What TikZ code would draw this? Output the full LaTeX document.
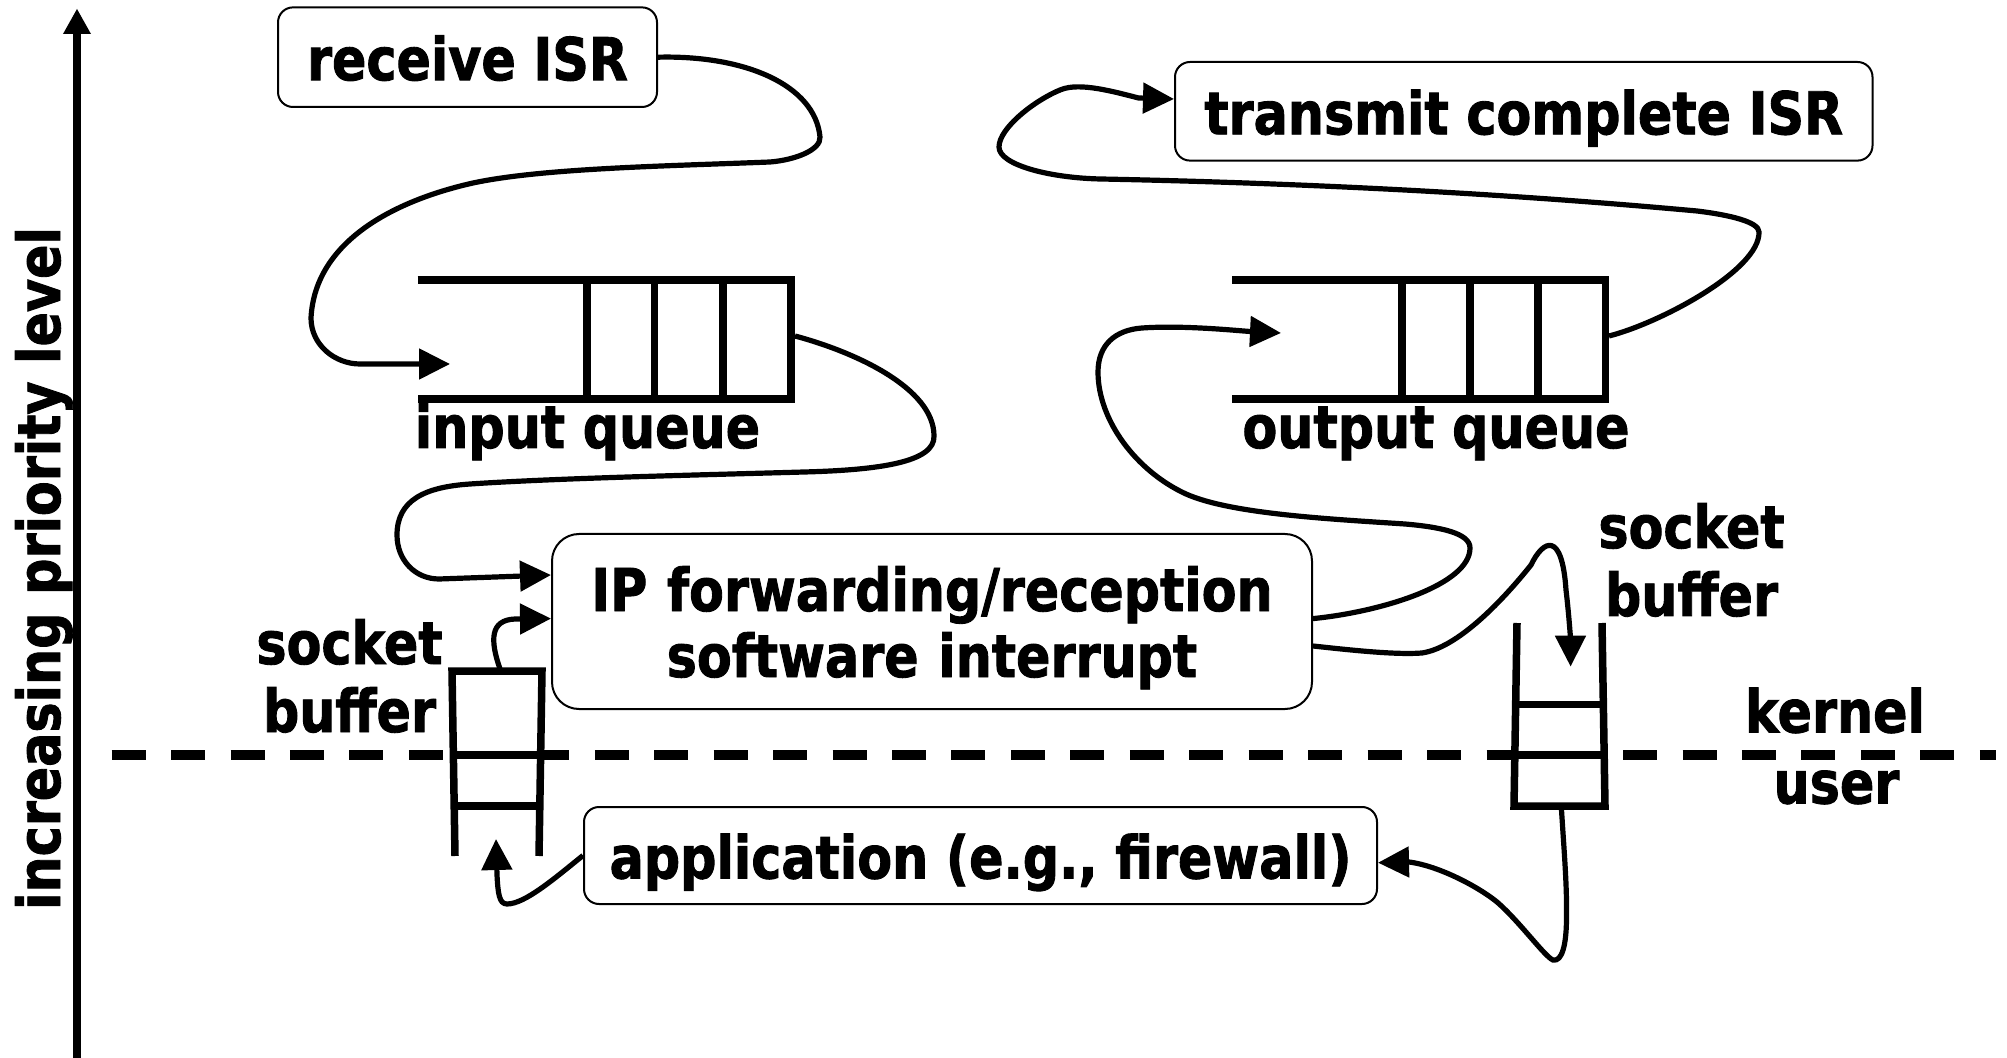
\documentclass[tikz,border=0pt]{standalone}
\usepackage{fontspec}
\newfontfamily\lblfont{DejaVu Sans Bold}[FakeStretch=0.86, FakeBold=1.5]
\usetikzlibrary{arrows.meta}
\begin{document}
\begin{tikzpicture}[x=0.5pt,y=-0.5pt]
\tikzset{
  lbl/.style={font=\lblfont\fontsize{29.5pt}{33pt}\selectfont, inner sep=0pt},
  twoline/.style={lbl, text width=150pt, align=center, font=\lblfont\fontsize{29.5pt}{34pt}\selectfont},
  box/.style={lbl, draw, line width=1pt, rounded corners=7.5pt, text height=28pt, text depth=5pt},
  conn/.style={line width=2.6pt, -{Triangle[length=15.5pt,width=15pt]}},
  qline/.style={line width=3.75pt},
  dashline/.style={line width=5pt, dash pattern=on 17pt off 12.725pt},
  axisline/.style={line width=3.7pt, -{Triangle[length=12.75pt,width=13pt]}}
}
\useasboundingbox (0,0) rectangle (2007,1058);

% priority axis
\coordinate (axb) at (77,1062);
\coordinate (axt) at (77,8.5);
\draw[axisline] (axb) -- (axt);
\node[lbl, rotate=90, anchor=base] (prio) at (60,568.5) {increasing priority level};

% kernel/user boundary
\draw[dashline] (111.6,755) -- (452,755);
\draw[dashline, dash phase=3.35pt] (542,755) -- (1514,755);
\draw[dashline, dash phase=20.7pt] (1605,755) -- (1996,755);
\node[lbl, anchor=base] (kern) at (1835,732.5) {kernel};
\node[lbl, anchor=base] (usr) at (1836.5,803.5) {user};

% boxes
\node[box, minimum width=189.5pt, minimum height=49.8pt] (recv) at (467.5,57.2) {receive ISR};
\node[box, minimum width=348.75pt, minimum height=49.3pt] (xmit) at (1523.75,111.3) {transmit complete ISR};
\node[box, minimum width=396.5pt, minimum height=48.5pt] (app) at (980.5,855.5) {application (e.g., firewall)};
\node[box, rounded corners=13.5pt, minimum width=380pt, minimum height=87.5pt,
      text width=370pt, align=center, text height=22pt, text depth=32.5pt] (ip) at (932,621.5)
      {IP forwarding/reception\\software interrupt};

% input queue
\draw[qline] (417.5,280) -- (791,280) -- (791,399) -- (417.5,399);
\foreach \qx in {587,654.5,723} \draw[qline] (\qx,280) -- (\qx,399);
\node[lbl, anchor=base] (iqlbl) at (587.5,448) {input queue};
\coordinate (iqin) at (450,364);
\coordinate (iqout) at (795,336);

% output queue
\draw[qline] (1232,280) -- (1605.5,280) -- (1605.5,399) -- (1232,399);
\foreach \qx in {1402,1470,1538} \draw[qline] (\qx,280) -- (\qx,399);
\node[lbl, anchor=base] (oqlbl) at (1436,448) {output queue};
\coordinate (oqin) at (1281,333);
\coordinate (oqout) at (1609,336);

% left socket buffer
\draw[qline] (455,856) -- (452,671) -- (542,671) -- (539,856);
\draw[qline] (453.5,755) -- (540.5,755);
\draw[qline] (453.8,806) -- (539.7,806);
\node[twoline, anchor=base] (lsblbl) at (349.5,664) {socket\\buffer};
\coordinate (lsbout) at (500,669);
\coordinate (lsbin) at (496,839);

% right socket buffer
\draw[qline] (1517,623) -- (1514,806) -- (1605,806) -- (1602,623);
\draw[qline] (1515.8,704.5) -- (1603.4,704.5);
\draw[qline] (1515.2,755) -- (1604,755);
\node[twoline, anchor=base] (rsblbl) at (1691.5,548) {socket\\buffer};
\coordinate (rsbin) at (1570.6,666.6);
\coordinate (rsbout) at (1561.5,810);

% connector end points on boxes
\coordinate (ipin1) at ([yshift=23.25pt]ip.west);
\coordinate (ipin2) at ([yshift=1.45pt]ip.west);
\coordinate (ipout1) at ([yshift=1.45pt]ip.east);
\coordinate (ipout2) at ([yshift=-12.25pt]ip.east);
\coordinate (xmin) at ([yshift=6.15pt]xmit.west);
\coordinate (appin) at ([yshift=-3.6pt]app.east);

% receive ISR -> input queue
\draw[conn] (recv.east) .. controls (745,55) and (815,85) .. (820,137)
  .. controls (821,150) and (795,160) .. (770,162)
  .. controls (670,166) and (543,168) .. (473,183)
  .. controls (397,200) and (315,240) .. (311,318)
  .. controls (311,345) and (335,364) .. (360,364) -- (iqin);

% input queue -> IP
\draw[conn] (iqout) .. controls (855,352) and (934,388) .. (934,436)
  .. controls (935,462) and (880,470) .. (804,472)
  .. controls (700,475) and (560,478) .. (470,484)
  .. controls (425,487) and (397,500) .. (397,535)
  .. controls (397,560) and (415,579) .. (439,579) -- (ipin1);

% left socket buffer -> IP
\draw[conn] (lsbout) .. controls (490,640) and (490,620) .. (515,619) -- (ipin2);

% IP -> output queue
\draw[conn] (ipout1) .. controls (1380,612) and (1470,585) .. (1470,548)
  .. controls (1470,533) and (1440,527) .. (1405,524)
  .. controls (1330,519) and (1231,514) .. (1186,494)
  .. controls (1136,471) and (1098,420) .. (1098,372)
  .. controls (1098,345) and (1115,330) .. (1142,328)
  .. controls (1185,325) and (1240,331) .. (oqin);

% output queue -> transmit complete ISR
\draw[conn] (oqout) .. controls (1660,323) and (1760,270) .. (1759,232)
  .. controls (1759,222) and (1730,215) .. (1697,211)
  .. controls (1500,193) and (1300,183) .. (1101,179)
  .. controls (1050,178) and (999,165) .. (999,147)
  .. controls (999,128) and (1035,100) .. (1061,89.6)
  .. controls (1080,82) and (1115,92) .. (1138.6,98) -- (xmin);

% IP -> right socket buffer
\draw[conn] (ipout2) .. controls (1350,650) and (1395,655) .. (1422,653)
  .. controls (1462,647) and (1511,590) .. (1531,565)
  .. controls (1543,540) and (1562,530) .. (1566,590)
  .. controls (1569,615) and (1570.5,640) .. (rsbin);

% right socket buffer -> application
\draw[conn] (rsbout) .. controls (1564,850) and (1567,885) .. (1566.5,917)
  .. controls (1566.5,945) and (1562,962) .. (1553,960)
  .. controls (1545,957) and (1520,922) .. (1497,902)
  .. controls (1480,888) and (1440,866) .. (1409,862) -- (appin);

% application -> left socket buffer
\draw[conn] (app.west) .. controls (555,878) and (525,904) .. (507,904)
  .. controls (499,904) and (498,893) .. (497,875) -- (lsbin);
\end{tikzpicture}
\end{document}
